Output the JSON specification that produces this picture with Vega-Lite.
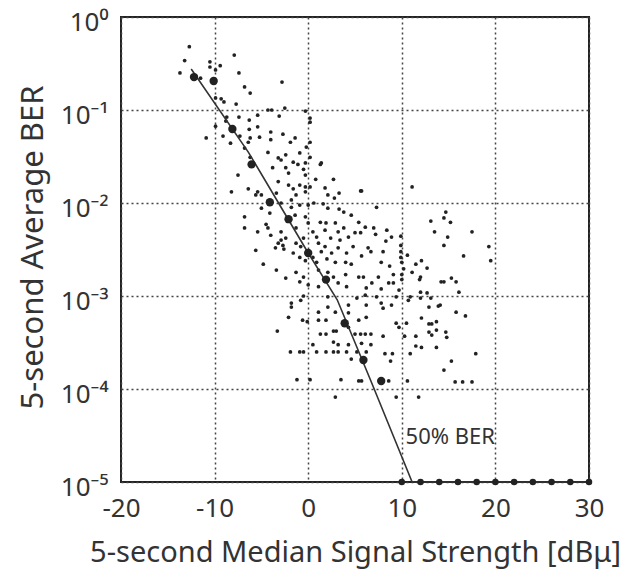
{
  "$schema": "https://vega.github.io/schema/vega-lite/v6.json",
  "width": 468,
  "height": 465,
  "autosize": {"type": "none"},
  "padding": {"left": 121, "top": 17, "right": 52, "bottom": 92},
  "background": "white",
  "config": {"view": {"stroke": "#222", "strokeWidth": 2}, "font": "Noto Sans"},
  "datasets": {
    "scatter": [
      {"s":-12.7,"ber":0.48},{"s":-13.2,"ber":0.34},{"s":-13.7,"ber":0.25},{"s":-10.5,"ber":0.33},{"s":-10.5,"ber":0.29},{"s":-9.9,"ber":0.27},{"s":-9.4,"ber":0.30},{"s":-7.9,"ber":0.39},{"s":-7.4,"ber":0.25},{"s":-11.5,"ber":0.22},{"s":-2.8,"ber":0.20},{"s":-6.8,"ber":0.177},{"s":-6.2,"ber":0.152},{"s":-9.9,"ber":0.135},{"s":-9.3,"ber":0.132},{"s":-9.0,"ber":0.122},{"s":-7.7,"ber":0.116},{"s":-4.3,"ber":0.1},{"s":-3.9,"ber":0.1},{"s":-2.5,"ber":0.105},{"s":-8.7,"ber":0.084},{"s":-7.4,"ber":0.084},{"s":-8.8,"ber":0.076},{"s":-6.3,"ber":0.078},{"s":-5.4,"ber":0.088},{"s":-3.1,"ber":0.086},{"s":-9.9,"ber":0.067},{"s":-6.3,"ber":0.062},{"s":-5.4,"ber":0.066},{"s":-9.1,"ber":0.0525},{"s":-10.9,"ber":0.050},{"s":-7.3,"ber":0.0525},{"s":-6.2,"ber":0.050},{"s":-5.2,"ber":0.051},{"s":-4.0,"ber":0.058},{"s":-2.7,"ber":0.055},{"s":-1.4,"ber":0.050},{"s":-8.3,"ber":0.044},{"s":-6.4,"ber":0.045},{"s":-4.0,"ber":0.048},{"s":-6.8,"ber":0.039},{"s":-4.3,"ber":0.035},{"s":-3.2,"ber":0.0305},{"s":-2.4,"ber":0.033},{"s":-6.2,"ber":0.031},{"s":-0.3,"ber":0.0975},{"s":0.2,"ber":0.082},{"s":0.2,"ber":0.074},{"s":0.2,"ber":0.045},{"s":0.2,"ber":0.031},{"s":-0.9,"ber":0.0345},{"s":-0.3,"ber":0.027},{"s":-0.5,"ber":0.023},{"s":-0.3,"ber":0.020},{"s":1.4,"ber":0.027},{"s":0.8,"ber":0.018},{"s":2.7,"ber":0.018},{"s":-0.9,"ber":0.0156},{"s":-0.3,"ber":0.0149},{"s":0.2,"ber":0.0149},{"s":1.8,"ber":0.0145},{"s":5.6,"ber":0.0135},{"s":2.1,"ber":0.0122},{"s":2.8,"ber":0.0113},{"s":3.3,"ber":0.0128},{"s":11.1,"ber":0.0149},{"s":0.0,"ber":0.0095},{"s":1.6,"ber":0.0098},{"s":2.1,"ber":0.0088},{"s":3.3,"ber":0.0086},{"s":-1.9,"ber":0.045},{"s":-2.9,"ber":0.029},{"s":-1.6,"ber":0.0275},{"s":-0.2,"ber":0.040},
      {"s":-7.5,"ber":0.020},{"s":-8.2,"ber":0.0132},{"s":-6.4,"ber":0.0142},{"s":-5.4,"ber":0.0132},{"s":-5.6,"ber":0.0122},{"s":-5.0,"ber":0.0122},{"s":-5.0,"ber":0.0088},{"s":-4.1,"ber":0.0078},{"s":-6.8,"ber":0.0071},{"s":-6.8,"ber":0.0054},{"s":-4.5,"ber":0.0059},{"s":-5.4,"ber":0.0049},{"s":-4.0,"ber":0.0045},{"s":-5.6,"ber":0.0031},{"s":-2.9,"ber":0.0040},{"s":-2.7,"ber":0.0035},{"s":-3.2,"ber":0.0037},{"s":-3.8,"ber":0.024},{"s":-2.4,"ber":0.024},{"s":-2.1,"ber":0.021},{"s":-1.1,"ber":0.026},{"s":1.3,"ber":0.026},{"s":-3.2,"ber":0.017},{"s":-2.1,"ber":0.0156},{"s":-1.6,"ber":0.0142},{"s":-1.3,"ber":0.0122},{"s":-0.3,"ber":0.0132},{"s":-3.4,"ber":0.0128},{"s":-2.9,"ber":0.010},{"s":-1.8,"ber":0.0108},{"s":-1.8,"ber":0.009},{"s":-0.9,"ber":0.0095},{"s":0.6,"ber":0.010},{"s":3.8,"ber":0.0080},{"s":4.6,"ber":0.0074},{"s":-1.4,"ber":0.0074},{"s":-0.3,"ber":0.0071},{"s":0.0,"ber":0.0061},{"s":1.3,"ber":0.0062},{"s":1.9,"ber":0.0061},{"s":2.9,"ber":0.0061},{"s":-1.3,"ber":0.0054},{"s":0.5,"ber":0.0049},{"s":1.8,"ber":0.0051},{"s":3.2,"ber":0.0049},{"s":3.8,"ber":0.0054},{"s":4.3,"ber":0.0043},{"s":5.0,"ber":0.0048},{"s":-0.5,"ber":0.0042},{"s":0.9,"ber":0.0043},{"s":2.4,"ber":0.0042},{"s":3.4,"ber":0.0040},{"s":-4.3,"ber":0.0054},{"s":-2.9,"ber":0.0049},{"s":-2.4,"ber":0.0042},{"s":-1.3,"ber":0.0037},{"s":-0.8,"ber":0.0034},{"s":1.1,"ber":0.0037},{"s":1.8,"ber":0.0034},{"s":1.4,"ber":0.0030},{"s":3.2,"ber":0.0033},{"s":2.5,"ber":0.0029},{"s":4.1,"ber":0.0029},{"s":4.8,"ber":0.0034},{"s":-3.5,"ber":0.0033},{"s":-2.6,"ber":0.0032},{"s":-1.6,"ber":0.0029},{"s":-0.9,"ber":0.0026},{"s":-0.3,"ber":0.0024},{"s":0.5,"ber":0.0026},{"s":0.9,"ber":0.0023},{"s":2.0,"ber":0.0025},{"s":2.9,"ber":0.0023},{"s":4.0,"ber":0.0023},{"s":4.6,"ber":0.0022},{"s":-4.8,"ber":0.0022},{"s":-3.4,"ber":0.0019},{"s":-2.4,"ber":0.00156},{"s":-1.3,"ber":0.0018},{"s":-0.5,"ber":0.0016},{"s":1.1,"ber":0.0019},{"s":2.1,"ber":0.0018},{"s":2.7,"ber":0.0016},{"s":4.0,"ber":0.0017},{"s":-0.9,"ber":0.00142},{"s":0.0,"ber":0.00132},{"s":1.1,"ber":0.00126},{"s":3.2,"ber":0.00138},{"s":4.1,"ber":0.00126},
      {"s":5.7,"ber":0.0135},{"s":7.3,"ber":0.009},{"s":14.7,"ber":0.0080},{"s":13.1,"ber":0.0064},{"s":14.5,"ber":0.0069},{"s":15.2,"ber":0.0062},{"s":13.5,"ber":0.0049},{"s":14.9,"ber":0.0043},{"s":17.5,"ber":0.0049},{"s":14.5,"ber":0.0035},{"s":19.3,"ber":0.0034},{"s":16.6,"ber":0.0027},{"s":19.5,"ber":0.0024},{"s":5.4,"ber":0.0062},{"s":6.1,"ber":0.0055},{"s":7.0,"ber":0.0054},{"s":5.6,"ber":0.0048},{"s":7.2,"ber":0.0046},{"s":8.4,"ber":0.0051},{"s":8.9,"ber":0.0043},{"s":8.3,"ber":0.0039},{"s":9.9,"ber":0.0044},{"s":9.9,"ber":0.0035},{"s":6.4,"ber":0.0033},{"s":6.7,"ber":0.0030},{"s":8.0,"ber":0.0030},{"s":5.7,"ber":0.0027},{"s":7.8,"ber":0.0023},{"s":9.9,"ber":0.0030},{"s":9.9,"ber":0.0026},{"s":10.6,"ber":0.00275},{"s":8.7,"ber":0.0021},{"s":10.0,"ber":0.0023},{"s":10.2,"ber":0.00196},{"s":11.5,"ber":0.0022},{"s":12.1,"ber":0.0024},{"s":12.7,"ber":0.0020},{"s":11.1,"ber":0.0018},{"s":12.0,"ber":0.0016},{"s":11.9,"ber":0.0015},{"s":5.4,"ber":0.0016},{"s":5.9,"ber":0.0016},{"s":7.5,"ber":0.0016},{"s":9.1,"ber":0.0017},{"s":10.0,"ber":0.0017},{"s":10.0,"ber":0.0015},{"s":6.8,"ber":0.00138},{"s":8.6,"ber":0.00138},{"s":9.1,"ber":0.00138},{"s":14.2,"ber":0.00142},{"s":14.5,"ber":0.00142},{"s":15.3,"ber":0.00156},{"s":15.8,"ber":0.00142},{"s":6.2,"ber":0.00122},{"s":7.8,"ber":0.00119},{"s":9.7,"ber":0.00116},{"s":12.0,"ber":0.0011},{"s":12.7,"ber":0.00108},{"s":16.1,"ber":0.0011},{"s":6.1,"ber":0.00102},{"s":7.3,"ber":0.00098},{"s":9.4,"ber":0.00098},{"s":10.9,"ber":0.00098},{"s":12.0,"ber":0.00095},{"s":13.1,"ber":0.00095},{"s":13.9,"ber":0.00078},{"s":7.8,"ber":0.00084},{"s":8.9,"ber":0.0008},{"s":10.7,"ber":0.0009},
      {"s":-0.5,"ber":0.001},{"s":-1.8,"ber":0.00084},{"s":-1.8,"ber":0.00076},{"s":-0.8,"ber":0.0009},{"s":2.1,"ber":0.00098},{"s":1.1,"ber":0.00067},{"s":2.1,"ber":0.00076},{"s":4.3,"ber":0.0008},{"s":5.2,"ber":0.00095},{"s":6.2,"ber":0.0008},{"s":-2.1,"ber":0.00059},{"s":-0.6,"ber":0.00055},{"s":-0.1,"ber":0.00053},{"s":1.1,"ber":0.00055},{"s":1.9,"ber":0.00055},{"s":2.9,"ber":0.00067},{"s":4.3,"ber":0.00066},{"s":5.4,"ber":0.00055},{"s":6.2,"ber":0.00059},{"s":-3.3,"ber":0.00042},{"s":1.3,"ber":0.00039},{"s":1.9,"ber":0.00039},{"s":2.7,"ber":0.00042},{"s":3.0,"ber":0.00042},{"s":4.3,"ber":0.00046},{"s":5.0,"ber":0.00039},{"s":5.6,"ber":0.00039},{"s":6.1,"ber":0.00039},{"s":6.7,"ber":0.00039},{"s":2.7,"ber":0.00032},{"s":0.5,"ber":0.0003},{"s":3.2,"ber":0.0003},{"s":4.3,"ber":0.0003},{"s":5.7,"ber":0.00031},{"s":6.7,"ber":0.0003},{"s":-1.9,"ber":0.00025},{"s":-0.9,"ber":0.00025},{"s":-0.5,"ber":0.00025},{"s":0.9,"ber":0.00025},{"s":1.9,"ber":0.00025},{"s":2.7,"ber":0.00025},{"s":3.2,"ber":0.00025},{"s":4.1,"ber":0.00025},{"s":5.2,"ber":0.00025},{"s":6.2,"ber":0.00025},{"s":4.6,"ber":0.00021},{"s":-1.2,"ber":0.000126},{"s":0.2,"ber":0.000126},{"s":3.5,"ber":0.000126},{"s":5.4,"ber":0.000122},{"s":5.7,"ber":0.000122},{"s":2.9,"ber":0.000082},
      {"s":8.0,"ber":0.00074},{"s":12.9,"ber":0.00076},{"s":14.1,"ber":0.0008},{"s":15.8,"ber":0.00067},{"s":16.8,"ber":0.00061},{"s":12.1,"ber":0.00058},{"s":10.5,"ber":0.00051},{"s":9.4,"ber":0.00051},{"s":9.7,"ber":0.00046},{"s":12.9,"ber":0.0005},{"s":13.2,"ber":0.0005},{"s":13.7,"ber":0.00053},{"s":12.9,"ber":0.00041},{"s":13.2,"ber":0.00038},{"s":13.7,"ber":0.00043},{"s":14.7,"ber":0.00041},{"s":14.8,"ber":0.00036},{"s":8.0,"ber":0.00037},{"s":10.3,"ber":0.00037},{"s":11.5,"ber":0.00037},{"s":11.5,"ber":0.00029},{"s":12.1,"ber":0.00028},{"s":13.7,"ber":0.00028},{"s":8.2,"ber":0.00024},{"s":9.0,"ber":0.00024},{"s":10.9,"ber":0.00024},{"s":17.9,"ber":0.00024},{"s":8.8,"ber":0.0002},{"s":15.3,"ber":0.0002},{"s":14.5,"ber":0.00016},{"s":8.6,"ber":0.000122},{"s":10.6,"ber":0.000122},{"s":15.7,"ber":0.000119},{"s":16.5,"ber":0.000119},{"s":17.5,"ber":0.000119},{"s":9.4,"ber":0.000082},{"s":11.8,"ber":0.000082}
    ],
    "median": [
      {"s":-12.2,"ber":0.226},{"s":-10.1,"ber":0.205},{"s":-8.1,"ber":0.0625},{"s":-6.05,"ber":0.026},{"s":-4.1,"ber":0.0102},{"s":-2.1,"ber":0.0067},{"s":0.0,"ber":0.0029},{"s":1.9,"ber":0.0015},{"s":3.9,"ber":0.00051},{"s":5.9,"ber":0.000205},{"s":7.8,"ber":0.000122}
    ],
    "floor": [
      {"s":10,"ber":0.00001},{"s":12,"ber":0.00001},{"s":14,"ber":0.00001},{"s":16,"ber":0.00001},{"s":18,"ber":0.00001},{"s":20,"ber":0.00001},{"s":22,"ber":0.00001},{"s":24,"ber":0.00001},{"s":26,"ber":0.00001},{"s":28,"ber":0.00001},{"s":30,"ber":0.00001}
    ],
    "curve": [
      {"s":-12.5,"ber":0.276},{"s":-6.4,"ber":0.0353},{"s":0.0,"ber":0.0029},{"s":3.1,"ber":0.00091},{"s":6.7,"ber":0.000122},{"s":11.1,"ber":0.00001},{"s":30,"ber":0.00001}
    ],
    "note": [{"s":10.4,"ber":0.0000305,"label":"50% BER"}]
  },
  "encoding": {
    "x": {
      "field": "s", "type": "quantitative",
      "scale": {"domain": [-20, 30], "nice": false, "zero": false},
      "axis": {
        "values": [-20, -10, 0, 10, 20, 30],
        "labelExpr": "'' + datum.value",
        "labelFont": "Noto Sans", "labelFontSize": 26, "labelColor": "#333",
        "labelPadding": 13, "labelFlush": false, "labelOverlap": false, "labelBound": false,
        "ticks": false, "domain": false,
        "grid": true, "gridColor": "#444", "gridDash": [2, 3], "gridWidth": 1.5,
        "title": "5-second Median Signal Strength [dBμ]",
        "titleFont": "Noto Sans", "titleFontSize": 29, "titleFontWeight": "normal", "titleColor": "#333",
        "titleY": 79, "titleBaseline": "alphabetic"
      }
    },
    "y": {
      "field": "ber", "type": "quantitative",
      "scale": {"type": "log", "domain": [0.00001, 1], "nice": false},
      "axis": {
        "values": [1, 0.1, 0.01, 0.001, 0.0001, 0.00001],
        "labelExpr": "datum.value > 0.5 ? '10⁰' : datum.value > 0.05 ? '10⁻¹' : datum.value > 0.005 ? '10⁻²' : datum.value > 0.0005 ? '10⁻³' : datum.value > 0.00005 ? '10⁻⁴' : '10⁻⁵'",
        "labelFont": "Noto Sans", "labelFontSize": 26, "labelColor": "#333",
        "labelPadding": 13, "labelOffset": 5, "labelFlush": false, "labelOverlap": false, "labelBound": false,
        "ticks": false, "domain": false,
        "grid": true, "gridColor": "#444", "gridDash": [2, 3], "gridWidth": 1.5,
        "title": "5-second Average BER",
        "titleFont": "Noto Sans", "titleFontSize": 31, "titleFontWeight": "normal", "titleColor": "#333",
        "titleX": -88, "titleY": 230, "titleAlign": "center", "titleBaseline": "middle", "titleAngle": -90
      }
    }
  },
  "layer": [
    {"data": {"name": "scatter"}, "mark": {"type": "circle", "size": 14, "color": "#222", "opacity": 1}},
    {"data": {"name": "curve"}, "mark": {"type": "line", "color": "#333", "strokeWidth": 1.6}},
    {"data": {"name": "median"}, "mark": {"type": "circle", "size": 70, "color": "#222", "opacity": 1}},
    {"data": {"name": "floor"}, "mark": {"type": "circle", "size": 42, "color": "#222", "opacity": 1}},
    {"data": {"name": "note"}, "mark": {"type": "text", "align": "left", "baseline": "middle", "font": "Noto Sans", "fontSize": 22, "color": "#333"}, "encoding": {"text": {"field": "label"}}}
  ]
}
